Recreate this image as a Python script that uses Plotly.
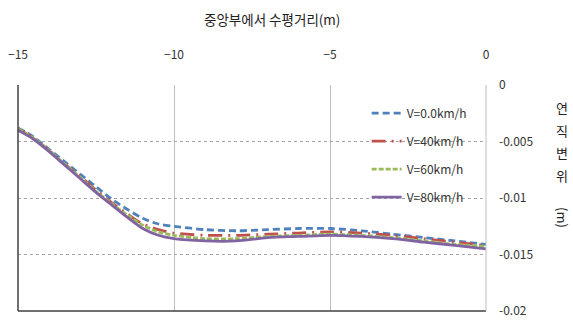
import plotly.graph_objects as go

# Horizontal distance from the centre (m)
x_dist = [-15, -14.5, -14, -13.5, -13, -12.5, -12, -11.5, -11, -10.5, -10,
          -9, -8, -7, -6, -5, -4, -3, -2, -1, 0]

# Vertical displacement (m) for each vehicle speed
v0 = [-0.0038, -0.0046, -0.0057, -0.0068, -0.0079, -0.0090, -0.0101, -0.0110, -0.0118, -0.0123, -0.0125,
      -0.0128, -0.0129, -0.0128, -0.0127, -0.0127, -0.0129, -0.0132, -0.0135, -0.0138, -0.0141]
v40 = [-0.0039, -0.0047, -0.0058, -0.0070, -0.0081, -0.0093, -0.0104, -0.0114, -0.0123, -0.0128, -0.0131,
       -0.0133, -0.0133, -0.0132, -0.0131, -0.0130, -0.0131, -0.0133, -0.0136, -0.0139, -0.0142]
v60 = [-0.0039, -0.0047, -0.0058, -0.0070, -0.0082, -0.0094, -0.0105, -0.0115, -0.0124, -0.0130, -0.0133,
       -0.0136, -0.0136, -0.0134, -0.0133, -0.0132, -0.0133, -0.0135, -0.0138, -0.0141, -0.0143]
v80 = [-0.0040, -0.0048, -0.0059, -0.0071, -0.0083, -0.0095, -0.0106, -0.0117, -0.0127, -0.0133, -0.0136,
       -0.0138, -0.0138, -0.0135, -0.0134, -0.0133, -0.0134, -0.0136, -0.0139, -0.0142, -0.0145]

series_names = ["V=0.0km/h", "V=40km/h", "V=60km/h", "V=80km/h"]
series_vals = [v0, v40, v60, v80]
series_colors = ["#4F81BD", "#C0504D", "#9BBB59", "#8064A2"]
series_dash = ["7px,4px", "14px,6px,2px,6px", "5px,2px", "solid"]

x_ticks = [-15, -10, -5, 0]
y_ticks = [0, -0.005, -0.01, -0.015, -0.02]
y_ticktext = ["0", "-0.005", "-0.01", "-0.015", "-0.02"]

x_title = "중앙부에서 수평거리(m)"
y_title_chars = ["연", "직", "변", "위"]
y_title_unit = "(m)"

fig = go.Figure()
for name, vals, col, dash in zip(series_names, series_vals, series_colors, series_dash):
    fig.add_trace(go.Scatter(
        x=x_dist, y=vals, name=name, mode="lines", legendgroup=name,
        line=dict(color=col, width=2.8, dash=dash, shape="spline", smoothing=0.8),
    ))

font_kr = "Noto Sans CJK KR"
W, H = 573, 326
ML, MR, MT, MB = 17, 87, 85, 8
plot_w = W - ML - MR
plot_h = H - MT - MB


def px_to_paper(px, py):
    """Convert page pixel position to paper coordinates of the plot area."""
    return (px - ML) / plot_w, 1 - (py - MT) / plot_h


def centred_text(text, px, py, size, angle=0):
    x, y = px_to_paper(px, py)
    return dict(text=text, x=x, y=y, xref="paper", yref="paper",
                xanchor="center", yanchor="middle", textangle=angle,
                showarrow=False,
                font=dict(size=size, color="#222222", family=font_kr))


annotations = [centred_text(x_title, 272, 17, 13.5)]
for ch, py in zip(y_title_chars, [108, 132, 155, 178]):
    annotations.append(centred_text(ch, 562, py, 13))
annotations.append(centred_text(y_title_unit, 562, 222, 13, angle=90))

fig.update_layout(
    width=W, height=H,
    margin=dict(l=ML, r=MR, t=MT, b=MB),
    paper_bgcolor="white", plot_bgcolor="white",
    font=dict(family=font_kr, size=12, color="#333333"),
    showlegend=True,
    legend=dict(
        x=0.745, y=0.94, xanchor="left", yanchor="top",
        bgcolor="rgba(255,255,255,0)", borderwidth=0,
        font=dict(family=font_kr, size=12, color="#333333"),
        tracegroupgap=9, traceorder="grouped",
    ),
    xaxis=dict(
        side="top", range=[-15, 0], tickvals=x_ticks,
        showgrid=True, gridcolor="#BFBFBF", gridwidth=1,
        zeroline=False, showline=False, ticks="", ticklabelstandoff=23,
        tickfont=dict(size=12, color="#333333"),
        fixedrange=True,
    ),
    yaxis=dict(
        side="right", range=[-0.02, 0], tickvals=y_ticks, ticktext=y_ticktext,
        showgrid=True, gridcolor="#A6A6A6", gridwidth=1, griddash="dot",
        zeroline=False, showline=False, ticks="", ticklabelstandoff=12,
        tickfont=dict(size=12, color="#333333"),
        fixedrange=True,
    ),
    annotations=annotations,
    shapes=[
        # frame: dark left/bottom axis lines, light right edge
        dict(type="line", xref="paper", yref="paper", x0=0, x1=0, y0=0, y1=1,
             line=dict(color="#404040", width=1.5)),
        dict(type="line", xref="paper", yref="paper", x0=0, x1=1, y0=0, y1=0,
             line=dict(color="#404040", width=1.5)),
        dict(type="line", xref="paper", yref="paper", x0=1, x1=1, y0=0, y1=1,
             line=dict(color="#BFBFBF", width=1)),
    ],
)

fig.write_html("out.html")
